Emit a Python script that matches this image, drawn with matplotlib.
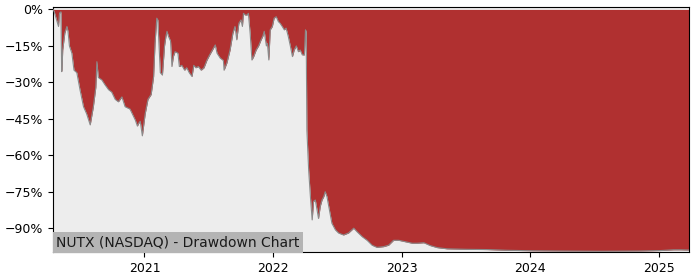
import matplotlib
matplotlib.use("Agg")
import matplotlib.pyplot as plt
import matplotlib.dates as mdates
import matplotlib.ticker as mticker
import pandas as pd

# ── Data ──────────────────────────────────────────────────────────────────────
dates = [
    "2020-04-17", "2020-04-20", "2020-05-02", "2020-05-05", "2020-05-09", "2020-05-11",
    "2020-05-12", "2020-05-14", "2020-05-20", "2020-05-26", "2020-05-29", "2020-06-02",
    "2020-06-09", "2020-06-15", "2020-06-23", "2020-07-02", "2020-07-12", "2020-07-21",
    "2020-07-31", "2020-08-09", "2020-08-16", "2020-08-19", "2020-08-23", "2020-09-02",
    "2020-09-11", "2020-09-21", "2020-09-30", "2020-10-10", "2020-10-19", "2020-10-29",
    "2020-11-07", "2020-11-21", "2020-12-01", "2020-12-06", "2020-12-12", "2020-12-15",
    "2020-12-20", "2020-12-26", "2021-01-03", "2021-01-11", "2021-01-20", "2021-01-27",
    "2021-01-31", "2021-02-05", "2021-02-08", "2021-02-12", "2021-02-15", "2021-02-21",
    "2021-02-27", "2021-03-03", "2021-03-06", "2021-03-10", "2021-03-16", "2021-03-20",
    "2021-03-24", "2021-03-29", "2021-04-06", "2021-04-10", "2021-04-17", "2021-04-25",
    "2021-05-01", "2021-05-08", "2021-05-16", "2021-05-21", "2021-05-27", "2021-06-03",
    "2021-06-11", "2021-06-19", "2021-06-27", "2021-07-04", "2021-07-13", "2021-07-21",
    "2021-07-26", "2021-08-04", "2021-08-13", "2021-08-15", "2021-08-23", "2021-09-01",
    "2021-09-09", "2021-09-15", "2021-09-20", "2021-09-26", "2021-10-02", "2021-10-06",
    "2021-10-09", "2021-10-14", "2021-10-19", "2021-10-23", "2021-10-28", "2021-11-02",
    "2021-11-07", "2021-11-14", "2021-11-21", "2021-11-28", "2021-12-03", "2021-12-07",
    "2021-12-13", "2021-12-16", "2021-12-20", "2021-12-24", "2021-12-30", "2022-01-04",
    "2022-01-10", "2022-01-16", "2022-01-21", "2022-01-27", "2022-02-02", "2022-02-07",
    "2022-02-13", "2022-02-19", "2022-02-25", "2022-03-02", "2022-03-08", "2022-03-14",
    "2022-03-19", "2022-03-25", "2022-03-31", "2022-04-03", "2022-04-05", "2022-04-07",
    "2022-04-12", "2022-04-17", "2022-04-22", "2022-04-26", "2022-05-01", "2022-05-06",
    "2022-05-10", "2022-05-15", "2022-05-20", "2022-05-25", "2022-05-29", "2022-06-03",
    "2022-06-08", "2022-06-17", "2022-06-27", "2022-07-06", "2022-07-20", "2022-08-03",
    "2022-08-18", "2022-08-27", "2022-09-11", "2022-09-25", "2022-10-09", "2022-10-23",
    "2022-11-11", "2022-11-25", "2022-12-09", "2022-12-24", "2023-01-12", "2023-01-31",
    "2023-02-14", "2023-03-05", "2023-03-24", "2023-04-12", "2023-05-10", "2023-07-06",
    "2023-09-01", "2023-10-27", "2024-01-11", "2024-03-27", "2024-07-18", "2024-11-09",
    "2025-01-05", "2025-02-11", "2025-03-03", "2025-03-26",
]
drawdown = [
    0.0, -1.0, -7.0, -1.5, -1.0, -25.6,
    -25.0, -16.7, -9.7, -7.0, -9.0, -15.0,
    -18.0, -25.0, -26.0, -33.0, -40.0, -43.0,
    -47.5, -40.0, -32.0, -21.5, -28.0, -29.0,
    -31.0, -33.0, -34.0, -37.0, -38.0, -36.0,
    -40.0, -41.0, -44.0, -45.5, -48.0, -47.0,
    -46.0, -52.0, -43.0, -37.0, -35.0, -27.6,
    -14.0, -3.6, -4.3, -16.7, -26.0, -27.0,
    -15.0, -11.0, -9.0, -11.0, -13.0, -23.5,
    -19.4, -17.4, -18.0, -23.5, -23.0, -25.0,
    -24.0, -26.0, -27.6, -23.0, -24.0, -23.5,
    -25.0, -24.0, -21.0, -19.0, -16.7, -14.6,
    -18.0, -20.0, -21.0, -25.0, -22.0, -16.7,
    -9.8, -7.0, -12.5, -5.7, -4.3, -7.0,
    -1.6, -2.3, -2.3, -1.6, -9.8, -20.8,
    -19.4, -16.7, -15.0, -12.5, -11.0, -9.0,
    -15.0, -14.0, -20.8, -8.4, -7.0, -3.6,
    -3.0, -5.0, -5.7, -7.0, -8.4, -7.7,
    -11.0, -15.0, -19.4, -16.7, -15.0, -17.4,
    -16.7, -18.7, -18.7, -8.4, -9.0, -49.6,
    -66.0, -77.0, -86.6, -79.0, -78.4, -82.5,
    -86.0, -81.0, -78.4, -77.0, -75.0, -77.0,
    -81.0, -88.0, -90.7, -92.0, -92.8, -92.0,
    -90.0, -91.4, -93.5, -95.0, -97.0, -97.9,
    -97.6, -97.0, -95.0, -95.0, -95.6, -96.2,
    -96.2, -96.0, -97.2, -98.0, -98.5, -98.7,
    -98.8, -99.1, -99.3, -99.4, -99.5, -99.4,
    -99.2, -98.9, -98.9, -99.0,
]

ticker_label = "NUTX (NASDAQ) - Drawdown Chart"

# ── Style ─────────────────────────────────────────────────────────────────────
C_RED  = "#B03030"
C_BG   = "#EDEDED"
C_EDGE = "#8A8A8A"

x = pd.to_datetime(dates)

fig = plt.figure(figsize=(7.0, 2.8), dpi=100)
ax = fig.add_axes([0.076, 0.1, 0.908, 0.875])
ax.set_facecolor(C_BG)

ax.fill_between(x, drawdown, 0, color=C_RED, lw=0, zorder=2)
ax.plot(x, drawdown, color=C_EDGE, lw=0.8, zorder=3)

ax.set_xlim(pd.Timestamp("2020-04-17"), pd.Timestamp("2025-03-26"))
ax.set_ylim(-99.8, 1.0)

ax.yaxis.set_major_locator(mticker.FixedLocator([0, -15, -30, -45, -60, -75, -90]))
ax.yaxis.set_major_formatter(mticker.PercentFormatter(decimals=0))
ax.xaxis.set_major_locator(mdates.YearLocator())
ax.xaxis.set_major_formatter(mdates.DateFormatter("%Y"))
ax.tick_params(labelsize=9)

ax.text(0.005, 0.012, ticker_label, transform=ax.transAxes, fontsize=10,
        ha="left", va="bottom", color="#1a1a1a", zorder=5,
        bbox=dict(facecolor="#B4B4B4", edgecolor="none", pad=2.5))

fig.savefig("out.png", dpi=100)
